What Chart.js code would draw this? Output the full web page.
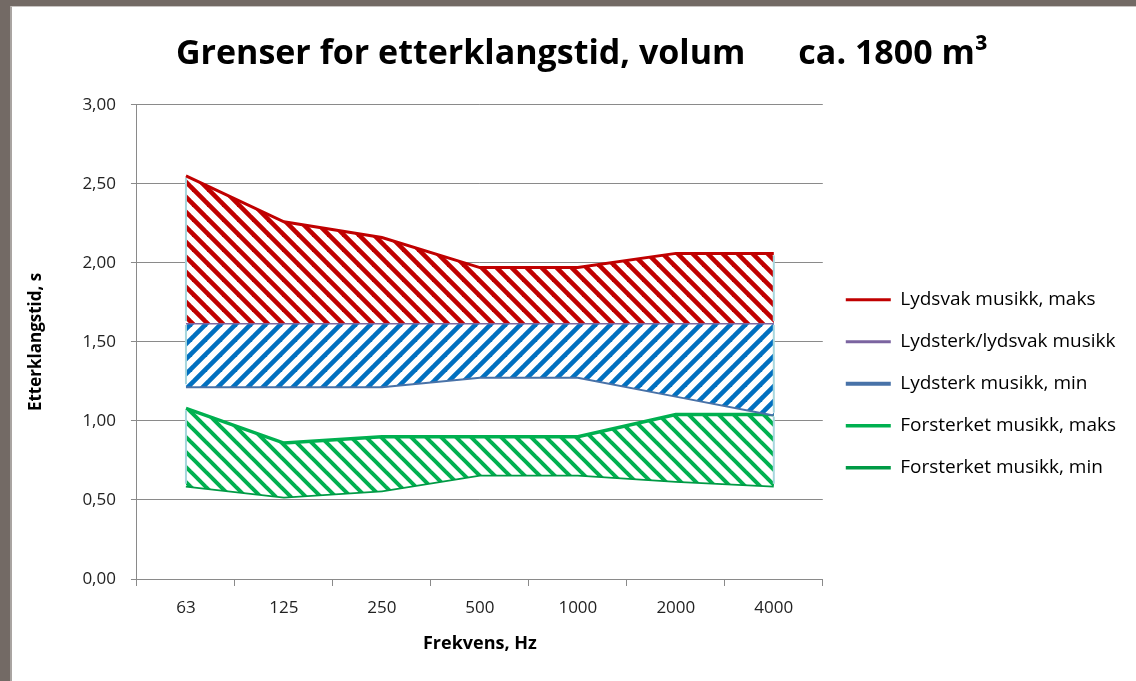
<!DOCTYPE html>
<html>
<head>
<meta charset="utf-8">
<title>Grenser for etterklangstid</title>
<script src="https://cdn.jsdelivr.net/npm/chart.js@4.4.0/dist/chart.umd.min.js"></script>
<style>
  html, body { margin: 0; padding: 0; }
  body { width: 1136px; height: 681px; background: #736a65; overflow: hidden; position: relative;
         font-family: 'Open Sans', sans-serif; }
  .sheet { position: absolute; left: 10px; top: 6px; right: 0; bottom: 0; background: #fff;
           border-left: 2px solid #a9a4a1; border-top: 1px solid #c8c4c2; }
  #chart { position: absolute; left: 0; top: 1px; }
</style>
</head>
<body>
<div class="sheet">
  <canvas id="chart" width="1124" height="673"></canvas>
</div>
<script>
// Chart data
const frekvenser = ['63', '125', '250', '500', '1000', '2000', '4000'];
const lydsvakMaks = [2.55, 2.26, 2.16, 1.97, 1.97, 2.06, 2.06];
const lydsterkLydsvak = [1.62, 1.62, 1.62, 1.62, 1.62, 1.62, 1.62];
const lydsterkMin = [1.22, 1.22, 1.22, 1.28, 1.28, 1.16, 1.04];
const forsterketMaks = [1.08, 0.86, 0.90, 0.90, 0.90, 1.04, 1.04];
const forsterketMin = [0.59, 0.52, 0.56, 0.66, 0.66, 0.62, 0.59];
const yMin = 0;
const yMax = 3;
const yStep = 0.5;

const FONT = "'Open Sans', 'Noto Sans', sans-serif";

// Diagonal hatch pattern, like the Excel wide-diagonal fill
function stripes(color, dir, width) {
    const size = 15;
    const c = document.createElement('canvas');
    c.width = size;
    c.height = size;
    const g = c.getContext('2d');
    g.fillStyle = '#fff';
    g.fillRect(0, 0, size, size);
    g.strokeStyle = color;
    g.lineWidth = width;
    for (let k = -1; k <= 1; k++) {
        g.beginPath();
        if (dir === 'down') {
            g.moveTo(k * size - 2, -2);
            g.lineTo(k * size + size + 2, size + 2);
        } else {
            g.moveTo(k * size - 2, size + 2);
            g.lineTo(k * size + size + 2, -2);
        }
        g.stroke();
    }
    return g.createPattern(c, 'repeat');
}

function formatComma(value) {
    return value.toFixed(2).replace('.', ',');
}

// light blue side edges of the hatched bands (Excel area outline)
const areaEdges = {
    id: 'areaEdges',
    afterDatasetsDraw(chart) {
        const { ctx, scales: { x, y } } = chart;
        const bands = [
            [lydsvakMaks, lydsterkLydsvak],
            [lydsterkLydsvak, lydsterkMin],
            [forsterketMaks, forsterketMin]
        ];
        ctx.save();
        ctx.strokeStyle = '#a6d6dd';
        ctx.lineWidth = 2;
        bands.forEach(([top, bottom]) => {
            [0, frekvenser.length - 1].forEach(i => {
                const px = x.getPixelForValue(i);
                ctx.beginPath();
                ctx.moveTo(px, y.getPixelForValue(top[i]) + 2);
                ctx.lineTo(px, y.getPixelForValue(bottom[i]) - 2);
                ctx.stroke();
            });
        });
        ctx.restore();
    }
};

function drawChart() {
    const ctx = document.getElementById('chart').getContext('2d');
    const gridColor = '#8a8a8a';

    new Chart(ctx, {
        type: 'line',
        data: {
            labels: frekvenser,
            datasets: [
                {
                    label: 'Lydsvak musikk, maks',
                    data: lydsvakMaks,
                    borderColor: '#C00000',
                    borderWidth: 3,
                    backgroundColor: stripes('#C00000', 'down', 4.6),
                    fill: '+1'
                },
                {
                    label: 'Lydsterk/lydsvak musikk',
                    data: lydsterkLydsvak,
                    borderColor: '#7b64a0',
                    borderWidth: 3,
                    backgroundColor: stripes('#0070C0', 'up', 4.6),
                    fill: '+1'
                },
                {
                    label: 'Lydsterk musikk, min',
                    data: lydsterkMin,
                    borderColor: '#4872a8',
                    borderWidth: 4,
                    fill: false
                },
                {
                    label: 'Forsterket musikk, maks',
                    data: forsterketMaks,
                    borderColor: '#00B050',
                    borderWidth: 3.5,
                    backgroundColor: stripes('#00B050', 'down', 4),
                    fill: '+1'
                },
                {
                    label: 'Forsterket musikk, min',
                    data: forsterketMin,
                    borderColor: '#009a45',
                    borderWidth: 3.5,
                    fill: false
                }
            ]
        },
        options: {
            responsive: false,
            animation: false,
            layout: {
                padding: { left: 8, right: 10, top: 0, bottom: 26 }
            },
            elements: {
                point: { radius: 0, hoverRadius: 0 },
                line: { tension: 0 }
            },
            plugins: {
                title: {
                    display: true,
                    text: '  Grenser for etterklangstid, volum      ca. 1800 m\u00B3',
                    color: '#000',
                    font: { family: FONT, size: 34, weight: 'bold' },
                    padding: { top: 26, bottom: 30 }
                },
                legend: {
                    display: true,
                    position: 'right',
                    maxWidth: 340,
                    title: {
                        display: true,
                        text: ' ',
                        font: { family: FONT, size: 12 },
                        padding: { top: 90, bottom: 0 }
                    },
                    labels: {
                        usePointStyle: true,
                        pointStyle: 'line',
                        pointStyleWidth: 45,
                        color: '#000',
                        font: { family: FONT, size: 19 },
                        padding: 23
                    }
                },
                tooltip: { enabled: false }
            },
            scales: {
                x: {
                    offset: true,
                    grid: {
                        offset: true,
                        drawOnChartArea: false,
                        color: gridColor,
                        tickLength: 7
                    },
                    border: { color: gridColor },
                    ticks: {
                        color: '#222',
                        font: { family: FONT, size: 17 },
                        padding: 12
                    },
                    title: {
                        display: true,
                        text: 'Frekvens, Hz',
                        color: '#000',
                        font: { family: FONT, size: 18, weight: 'bold' },
                        padding: { top: 3, bottom: 0 }
                    }
                },
                y: {
                    min: yMin,
                    max: yMax,
                    grid: {
                        color: gridColor,
                        tickLength: 6
                    },
                    border: { color: gridColor },
                    ticks: {
                        stepSize: yStep,
                        color: '#222',
                        font: { family: FONT, size: 17 },
                        padding: 15,
                        callback: value => formatComma(value)
                    },
                    title: {
                        display: true,
                        text: 'Etterklangstid, s',
                        color: '#000',
                        font: { family: FONT, size: 17, weight: 'bold' },
                        padding: { top: 6, bottom: 21 }
                    }
                }
            }
        },
        plugins: [areaEdges]
    });
}

// make sure the fonts are ready before Chart.js measures text
Promise.all([
    document.fonts.load("17px 'Open Sans'"),
    document.fonts.load("bold 17px 'Open Sans'")
]).then(drawChart, drawChart);
</script>
</body>
</html>
